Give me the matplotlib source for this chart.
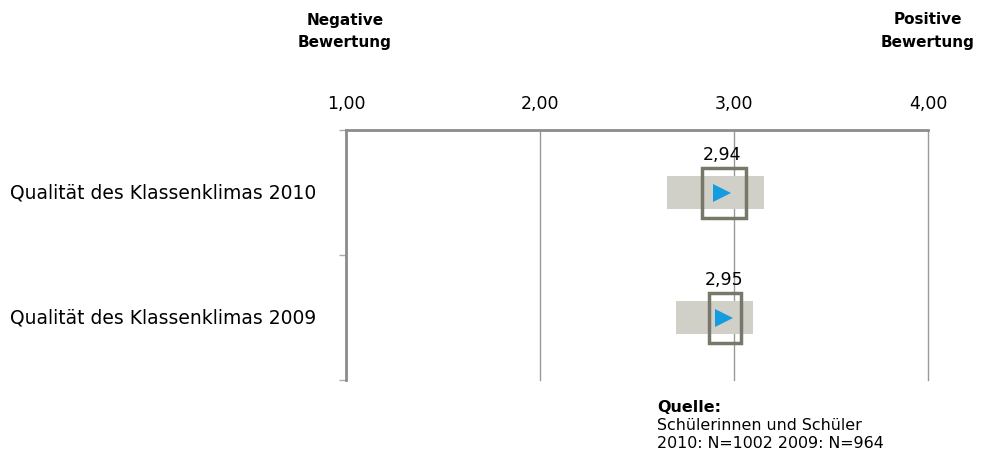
import matplotlib.pyplot as plt
import matplotlib.transforms as mtransforms

categories = ['Qualität des Klassenklimas 2010', 'Qualität des Klassenklimas 2009']
means = [2.94, 2.95]
mean_labels = ['2,94', '2,95']
band_lo = [2.655, 2.70]
band_hi = [3.155, 3.10]
box_lo = [2.835, 2.87]
box_hi = [3.062, 3.036]
xticks = [1, 2, 3, 4]
xtick_labels = ['1,00', '2,00', '3,00', '4,00']

plt.rcParams['font.family'] = ['DejaVu Sans']

fig = plt.figure(figsize=(9.85, 4.66), dpi=100)
ax = fig.add_axes([346 / 985, 1 - 380 / 466, (928 - 346) / 985, 250 / 466])

y = list(range(len(categories)))
ax.barh(y, [h - l for l, h in zip(band_lo, band_hi)], left=band_lo, height=0.27,
        color='#D0D0C8', zorder=2)
ax.barh(y, [h - l for l, h in zip(box_lo, box_hi)], left=box_lo, height=0.4,
        facecolor='none', edgecolor='#77776A', linewidth=2.5, zorder=4)
ax.plot(means, y, linestyle='none', marker='>', markersize=13, color='#139DE0',
        markeredgewidth=0, zorder=5)
for m, yy, lab in zip(means, y, mean_labels):
    ax.text(m, yy - 0.3, lab, ha='center', va='center', fontsize=12.5, zorder=6)

ax.set_xlim(1, 4)
ax.set_ylim(1.5, -0.5)
ax.xaxis.tick_top()
ax.set_xticks(xticks)
ax.set_xticklabels(xtick_labels, fontsize=12.5)
ax.set_xticks([1], minor=True)
ax.tick_params(axis='x', which='major', length=0, pad=12)
ax.tick_params(axis='x', which='minor', length=5, color='#999999', width=1)
ax.set_yticks([-0.5, 0.5, 1.5])
ax.set_yticklabels([])
ax.tick_params(axis='y', length=5, color='#aaaaaa', width=1)
ax.grid(axis='x', color='#999999', linewidth=1, zorder=1)
for gl in ax.get_xgridlines():
    gl.set_clip_on(False)
ax.set_axisbelow(True)
for side in ['right', 'bottom']:
    ax.spines[side].set_visible(False)
for side in ['top', 'left']:
    ax.spines[side].set_color('#8c8c8c')
    ax.spines[side].set_linewidth(2)

trans = mtransforms.blended_transform_factory(fig.transFigure, ax.transData)
for yy, cat in zip(y, categories):
    ax.text(10 / 985, yy, cat, transform=trans, ha='left', va='center', fontsize=13.5)

for x, words in [(345, ['Negative', 'Bewertung']), (928, ['Positive', 'Bewertung'])]:
    for py, w in zip([20, 43], words):
        fig.text(x / 985, 1 - py / 466, w, ha='center', va='center',
                 fontsize=11, fontweight='bold')

fig.text(657 / 985, 1 - 408 / 466, 'Quelle:', ha='left', va='center', fontsize=11.5,
         fontweight='bold')
for py, line in zip([426, 444], ['Schülerinnen und Schüler', '2010: N=1002 2009: N=964']):
    fig.text(657 / 985, 1 - py / 466, line, ha='left', va='center', fontsize=11.4)

fig.savefig('out.png', dpi=100)
